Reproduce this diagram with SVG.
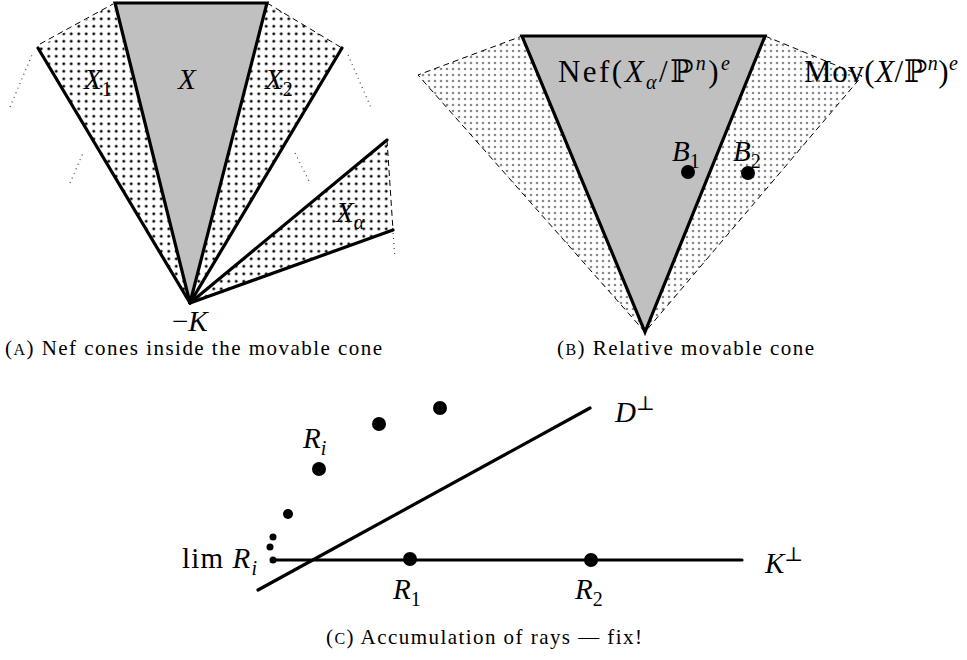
<svg xmlns="http://www.w3.org/2000/svg" width="967" height="660" viewBox="0 0 967 660">
<style>
.heavy{stroke:#000;stroke-width:3.2;fill:none;stroke-linejoin:miter;stroke-linecap:round}
.dash{stroke:#000;stroke-width:1;fill:none;stroke-dasharray:6 4}
.dotl{stroke:#444;stroke-width:1.2;fill:none;stroke-dasharray:1 4}
.m{font-family:"Liberation Serif","DejaVu Serif",serif;font-size:29px;fill:#000}
.big{font-size:31px}
.i{font-style:italic}
.s{font-size:20px}
.cap{font-family:"Liberation Serif","DejaVu Serif",serif;font-size:21px;fill:#000}
.sc{font-size:16px}
.gray{fill:#c0c0c0}
.dot{fill:#000}
</style>
<defs>
<pattern id="blk" patternUnits="userSpaceOnUse" width="7.5" height="7.5"><circle cx="3.75" cy="3.75" r="1.45" fill="#000"/></pattern>
<pattern id="gry" patternUnits="userSpaceOnUse" width="6" height="6"><circle cx="3" cy="3" r="1.3" fill="#8a8a8a"/></pattern>
</defs>

<g id="panelA">
<g id="cones-dotted">
<polygon points="190,303 38,48 113,4" fill="url(#blk)"/>
<polygon points="190,303 267,3 342,48" fill="url(#blk)"/>
<polygon points="190,303 387,140 393,230" fill="url(#blk)"/>
</g>
<g id="faint">
<line class="dotl" x1="10" y1="107" x2="32" y2="55"/>
<line class="dotl" x1="70" y1="183" x2="83" y2="153"/>
<line class="dotl" x1="348" y1="55" x2="372" y2="110"/>
<line class="dotl" x1="295" y1="153" x2="310" y2="183"/>
<line class="dotl" x1="393" y1="233" x2="395" y2="258"/>
</g>
<g id="dashes">
<line class="dash" x1="40" y1="44" x2="113" y2="4"/>
<line class="dash" x1="267" y1="3" x2="342" y2="48"/>
<line class="dash" x1="387" y1="140" x2="393" y2="230"/>
</g>
<g id="nodeX">
<polygon class="gray" points="115,3 267,3 190,303"/>
<polygon class="heavy" points="115,3 267,3 190,303"/>
</g>
<g id="rays">
<line class="heavy" x1="190" y1="303" x2="38" y2="48"/>
<line class="heavy" x1="190" y1="303" x2="342" y2="48"/>
<line class="heavy" x1="190" y1="303" x2="387" y2="140"/>
<line class="heavy" x1="190" y1="303" x2="393" y2="230"/>
</g>
<text class="m i" x="84" y="89">X<tspan class="s" font-style="normal" dy="7">1</tspan></text>
<text class="m i" x="178" y="89">X</text>
<text class="m i" x="265" y="89">X<tspan class="s" font-style="normal" dy="7">2</tspan></text>
<text class="m i" x="336" y="222">X<tspan class="s" dy="7">α</tspan></text>
<text class="m" x="172" y="331">−<tspan class="i">K</tspan></text>
</g>

<g id="panelB">
<g id="movCone">
<polygon points="645,332 418,75 522,36 765,36 862,76" fill="url(#gry)"/>
<polyline class="dash" points="645,332 418,75 522,36"/>
<polyline class="dash" points="765,36 862,76 645,332"/>
</g>
<g id="nefCone">
<polygon class="gray" points="522,36 765,36 645,332"/>
<polygon class="heavy" points="522,36 765,36 645,332"/>
</g>
<text class="m big" x="558" y="82" textLength="172">Nef(<tspan class="i">X</tspan><tspan class="i s" dy="7">α</tspan><tspan dy="-7">/ℙ</tspan><tspan class="i s" dy="-12">n</tspan><tspan dy="12">)</tspan><tspan class="i s" dy="-12">e</tspan></text>
<text class="m big" x="804" y="82" textLength="154">Mov(<tspan class="i">X</tspan>/ℙ<tspan class="i s" dy="-12">n</tspan><tspan dy="12">)</tspan><tspan class="i s" dy="-12">e</tspan></text>
<g id="B1"><circle class="dot" cx="688" cy="172" r="7"/><text class="m i" x="672" y="161">B<tspan class="s" font-style="normal" dy="7">1</tspan></text></g>
<g id="B2"><circle class="dot" cx="748" cy="173" r="7"/><text class="m i" x="733" y="161">B<tspan class="s" font-style="normal" dy="7">2</tspan></text></g>
</g>

<text class="cap" x="5" y="355" textLength="377">(<tspan class="sc">A</tspan>) Nef cones inside the movable cone</text>
<text class="cap" x="557" y="355" textLength="257">(<tspan class="sc">B</tspan>) Relative movable cone</text>

<g id="panelC">
<g id="connectors">
<line class="heavy" x1="273" y1="560" x2="742" y2="560"/>
<line class="heavy" x1="258" y1="590" x2="590" y2="408"/>
</g>
<g id="R1"><circle class="dot" cx="410" cy="559" r="7"/><text class="m i" x="393" y="599">R<tspan class="s" font-style="normal" dy="7">1</tspan></text></g>
<g id="R2"><circle class="dot" cx="591" cy="560" r="7"/><text class="m i" x="575" y="599">R<tspan class="s" font-style="normal" dy="7">2</tspan></text></g>
<g id="limRi"><circle class="dot" cx="273" cy="560" r="3.5"/><text class="m" x="182" y="568" textLength="75">lim <tspan class="i">R</tspan><tspan class="i s" dy="7">i</tspan></text></g>
<g id="seq">
<circle class="dot" cx="270" cy="547" r="3.5"/>
<circle class="dot" cx="273" cy="537" r="3.5"/>
<circle class="dot" cx="288" cy="514" r="5"/>
<circle class="dot" cx="319" cy="469" r="7"/>
<circle class="dot" cx="379" cy="424" r="7"/>
<circle class="dot" cx="440" cy="408" r="7"/>
<text class="m i" x="303" y="448">R<tspan class="s" dy="7">i</tspan></text>
</g>
<text class="m i" x="615" y="422">D<tspan class="s" font-style="normal" dy="-12">⊥</tspan></text>
<text class="m i" x="765" y="573">K<tspan class="s" font-style="normal" dy="-12">⊥</tspan></text>
</g>
<text class="cap" x="326" y="644" textLength="316">(<tspan class="sc">C</tspan>) Accumulation of rays — fix!</text>
</svg>
